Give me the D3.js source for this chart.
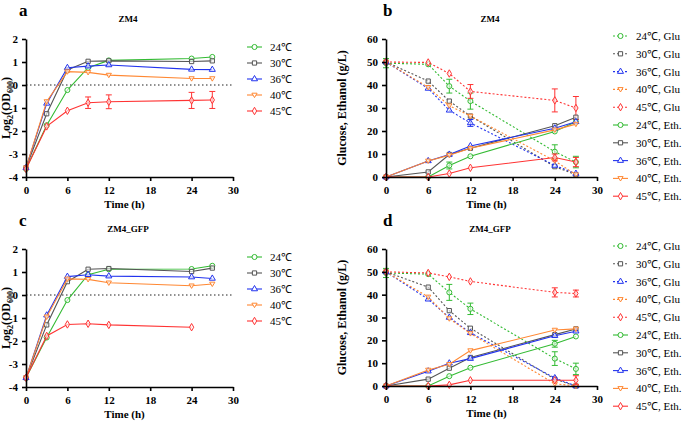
<!DOCTYPE html>
<html>
<head>
<meta charset="utf-8">
<script src="https://cdn.jsdelivr.net/npm/d3@7"></script>
<style>
  body { margin: 0; background: #fff; }
  svg text { font-family: "Liberation Serif", "Times New Roman", serif; }
</style>
</head>
<body>
<svg id="chart" width="685" height="423"></svg>
<script>
// time points
var hoursOD = [0, 3, 6, 9, 12, 24, 27];
var hoursFerm = [0, 6, 9, 12, 24, 27];
var temps = ['24', '30', '36', '40', '45'];
var colors = ['#33bb33', '#555555', '#2233ee', '#ff8833', '#ff3333'];
var symbols = ['circle', 'square', 'triangle', 'triangleDown', 'diamond'];

// panel a: ZM4, log2(OD600) per temperature
var odZM4 = [
  [-3.65, -1.75, -0.22, 0.75, 1.07, 1.15, 1.22],
  [-3.6, -1.25, 0.65, 1.03, 1.05, 1.02, 1.05],
  [-3.6, -0.8, 0.75, 0.82, 0.87, 0.68, 0.67],
  [-3.6, -0.72, 0.58, 0.55, 0.43, 0.28, 0.28],
  [-3.65, -1.8, -1.12, -0.77, -0.73, -0.67, -0.65]
];
var odZM4Err = [
  [0.05, 0.1, 0.12, 0.05, 0.04, 0.04, 0.04],
  [0.05, 0.05, 0.05, 0.04, 0.04, 0.04, 0.04],
  [0.05, 0.05, 0.05, 0.04, 0.04, 0.04, 0.04],
  [0.05, 0.05, 0.05, 0.04, 0.04, 0.04, 0.04],
  [0.05, 0.12, 0.05, 0.25, 0.3, 0.35, 0.37]
];
// panel c: ZM4_GFP
var odGFP = [
  [-3.6, -1.85, -0.22, 0.88, 1.12, 1.13, 1.27],
  [-3.6, -1.3, 0.58, 1.12, 1.15, 1.02, 1.17],
  [-3.6, -0.88, 0.8, 0.88, 0.82, 0.78, 0.72],
  [-3.6, -0.95, 0.7, 0.68, 0.53, 0.4, 0.48],
  [-3.6, -1.78, -1.28, -1.25, -1.3, -1.4, null]
];

// panel b: ZM4 glucose and ethanol (g/L)
var gluZM4 = [
  [49.5, 49, 39.5, 33, 11, 6.5],
  [50, 41.7, 33, 26.5, 4.5, 1],
  [50, 38.5, 29, 23.5, 5, 1.5],
  [50, 39, 31, 26.5, 7, 1],
  [50, 49.8, 45, 37.2, 33.3, 30]
];
var gluZM4Err = [
  [2, 1, 3, 3.5, 3, 2.5],
  [0.5, 0.5, 0.5, 0.5, 0.5, 0.5],
  [0.5, 1, 1, 1.5, 0.5, 0.5],
  [0.5, 0.5, 0.5, 0.5, 0.5, 0.5],
  [0.5, 1, 1, 3, 5, 5]
];
var ethZM4 = [
  [0, 0, 5, 9, 19.8, 24],
  [0, 2.2, 9.8, 12.5, 22.3, 26],
  [0, 7, 9.8, 13.5, 21.2, 24],
  [0, 7, 9.5, 12.5, 20.5, 23],
  [0, 0, 1.5, 4, 8.5, 6.5]
];
var ethZM4Err = [
  [0.3, 0.3, 1.5, 1, 1, 1],
  [0.3, 0.3, 0.5, 0.5, 0.5, 0.5],
  [0.3, 0.5, 0.5, 0.8, 0.5, 0.5],
  [0.3, 0.5, 0.5, 0.5, 0.5, 0.8],
  [0.3, 0.3, 0.5, 0.5, 1.5, 2]
];

// panel d: ZM4_GFP glucose and ethanol (g/L)
var gluGFP = [
  [49.5, 49, 41, 33.8, 12, 7.5],
  [50, 43.3, 33, 25.3, 3, 0],
  [50, 38, 30, 23.3, 3.5, 0],
  [50, 39, 29.5, 23, 1, 0],
  [50, 49.5, 47.8, 45.8, 41, 40.5]
];
var gluGFPErr = [
  [2, 1, 3.5, 2.5, 3, 2.5],
  [0.5, 0.5, 0.5, 0.5, 0.5, 0.3],
  [0.5, 1, 1, 1, 0.5, 0.3],
  [0.5, 0.5, 1, 0.5, 0.5, 0.3],
  [0.5, 1, 1, 1, 2, 1.5]
];
var ethGFP = [
  [0, 0, 4.3, 8, 18.5, 21.7],
  [0, 3, 7.8, 12.5, 22.5, 25],
  [0, 6.5, 10, 12, 22, 24],
  [0, 7, 9.5, 15.5, 24.5, 25],
  [0, 0, 0.5, 2.5, 2.5, 2.5]
];
var ethGFPErr = [
  [0.3, 0.3, 0.5, 0.5, 1.5, 0.8],
  [0.3, 1, 1, 0.5, 0.5, 0.5],
  [0.3, 0.5, 0.5, 0.5, 0.5, 0.5],
  [0.3, 0.5, 0.5, 1, 0.5, 0.5],
  [0.3, 0.3, 0.3, 0.3, 0.3, 2]
];

var xTicks = [0, 6, 12, 18, 24, 30];
var svg = d3.select('#chart');

function drawAxes(g, x, y, yTicks, yLabel, labelOffset) {
  g.append('g')
    .attr('transform', 'translate(0,' + y.range()[0] + ')')
    .call(d3.axisBottom(x).tickValues(xTicks).tickSize(4).tickSizeOuter(0))
    .call(function (a) {
      a.select('.domain').attr('stroke-width', 1.6);
      a.selectAll('line').attr('stroke-width', 1.6);
      a.selectAll('text').attr('font-size', 11).attr('font-weight', 'bold').attr('dy', '0.9em');
    });
  g.append('g')
    .attr('transform', 'translate(' + x.range()[0] + ',0)')
    .call(d3.axisLeft(y).tickValues(yTicks).tickSize(4).tickSizeOuter(0)
      .tickFormat(function (d) { return String(d); }))
    .call(function (a) {
      a.select('.domain').attr('stroke-width', 1.6);
      a.selectAll('line').attr('stroke-width', 1.6);
      a.selectAll('text').attr('font-size', 11).attr('font-weight', 'bold').attr('dx', '-0.1em');
    });
  var x0 = x.range()[0], x1 = x.range()[1];
  g.append('text')
    .attr('x', (x0 + x1) / 2 - 5).attr('y', y.range()[0] + 31)
    .attr('text-anchor', 'middle').attr('font-size', 11).attr('font-weight', 'bold')
    .text('Time (h)');
  var yl = g.append('text')
    .attr('transform', 'translate(' + (x0 - labelOffset) + ',' + ((y.range()[0] + y.range()[1]) / 2) + ') rotate(-90)')
    .attr('text-anchor', 'middle').attr('font-size', 12).attr('font-weight', 'bold');
  if (yLabel === 'od') {
    yl.append('tspan').text('Log');
    yl.append('tspan').attr('font-size', 8).attr('dy', 3).text('2');
    yl.append('tspan').attr('dy', -3).text('(OD');
    yl.append('tspan').attr('font-size', 8).attr('dy', 3).text('600');
    yl.append('tspan').attr('dy', -3).text(')');
  } else {
    yl.text('Glucose, Ethanol (g/L)');
  }
}

function drawSeries(g, x, y, hours, vals, errs, i, dashed) {
  var pts = hours.map(function (h, k) { return { h: h, v: vals[k], e: errs ? errs[k] : 0 }; })
    .filter(function (d) { return d.v !== null; });
  var line = d3.line().x(function (d) { return x(d.h); }).y(function (d) { return y(d.v); });
  g.append('path').datum(pts)
    .attr('d', line).attr('fill', 'none')
    .attr('stroke', colors[i]).attr('stroke-width', 1.1)
    .attr('stroke-dasharray', dashed ? '2,2' : null);
  var eb = g.append('g').attr('stroke', colors[i]).attr('stroke-width', 1);
  pts.forEach(function (d) {
    if (d.e * Math.abs(y(0) - y(1)) < 3) return;
    var cx = x(d.h);
    eb.append('line').attr('x1', cx).attr('x2', cx).attr('y1', y(d.v - d.e)).attr('y2', y(d.v + d.e));
    eb.append('line').attr('x1', cx - 3).attr('x2', cx + 3).attr('y1', y(d.v - d.e)).attr('y2', y(d.v - d.e));
    eb.append('line').attr('x1', cx - 3).attr('x2', cx + 3).attr('y1', y(d.v + d.e)).attr('y2', y(d.v + d.e));
  });
  g.append('g').selectAll('path').data(pts).join('path')
    .attr('transform', function (d) { return 'translate(' + x(d.h) + ',' + y(d.v) + ')'; })
    .attr('d', marker(i))
    .attr('fill', 'white').attr('fill-opacity', 0.6)
    .attr('stroke', colors[i]).attr('stroke-width', 1);
}

function marker(i) {
  var s = symbols[i];
  if (s === 'triangleDown') {
    return 'M-2.6,-1.8L2.6,-1.8L0,2.6Z';
  }
  var type = { circle: d3.symbolCircle, square: d3.symbolSquare, triangle: d3.symbolTriangle, diamond: d3.symbolDiamond }[s];
  var size = { circle: 20, square: 18, triangle: 16, diamond: 16 }[s];
  return d3.symbol().type(type).size(size)();
}

function legendRow(g, lx, ly, i, label, dashed) {
  g.append('line').attr('x1', lx).attr('x2', lx + 15).attr('y1', ly).attr('y2', ly)
    .attr('stroke', colors[i]).attr('stroke-width', 1.1)
    .attr('stroke-dasharray', dashed ? '2,2' : null);
  g.append('path').attr('transform', 'translate(' + (lx + 7.5) + ',' + ly + ')')
    .attr('d', marker(i)).attr('fill', 'white').attr('stroke', colors[i]).attr('stroke-width', 1);
  g.append('text').attr('x', lx + 23).attr('y', ly + 4).attr('font-size', 11).text(label);
}

function panelLabels(g, lx, ly, letter, tx, title) {
  g.append('text').attr('x', lx).attr('y', ly).attr('font-size', 17).attr('font-weight', 'bold').text(letter);
  g.append('text').attr('x', tx).attr('y', ly + 6).attr('text-anchor', 'middle')
    .attr('font-size', 9).attr('font-weight', 'bold').text(title);
}

function odPanel(top, letter, title, data, errs) {
  var g = svg.append('g');
  var x = d3.scaleLinear().domain([0, 30]).range([26, 233]);
  var y = d3.scaleLinear().domain([-4, 2]).range([top + 138, top]);
  panelLabels(g, 19, top - 23, letter, 128, title);
  g.append('line').attr('x1', x(0)).attr('x2', x(30)).attr('y1', y(0)).attr('y2', y(0))
    .attr('stroke', '#222').attr('stroke-width', 1.2).attr('stroke-dasharray', '1.5,2.5');
  data.forEach(function (vals, i) {
    drawSeries(g, x, y, hoursOD, vals, errs ? errs[i] : null, i, false);
  });
  drawAxes(g, x, y, d3.range(-4, 3), 'od', 16);
  temps.forEach(function (t, i) {
    legendRow(g, 247, top + 8 + i * 16, i, t + '\u2103', false);
  });
}

function fermPanel(top, bottom, letter, title, glu, gluErr, eth, ethErr) {
  var g = svg.append('g');
  var x = d3.scaleLinear().domain([0, 30]).range([386, 597]);
  var y = d3.scaleLinear().domain([0, 60]).range([bottom, top]);
  panelLabels(g, 383, top - 23, letter, 490, title);
  glu.forEach(function (vals, i) {
    drawSeries(g, x, y, hoursFerm, vals, gluErr[i], i, true);
  });
  eth.forEach(function (vals, i) {
    drawSeries(g, x, y, hoursFerm, vals, ethErr[i], i, false);
  });
  drawAxes(g, x, y, d3.range(0, 61, 10), 'ferm', 40);
  temps.forEach(function (t, i) {
    legendRow(g, 613, top - 3 + i * 17.8, i, t + '\u2103, Glu', true);
  });
  temps.forEach(function (t, i) {
    legendRow(g, 613, top - 3 + (i + 5) * 17.8, i, t + '\u2103, Eth.', false);
  });
}

odPanel(39, 'a', 'ZM4', odZM4, odZM4Err);
odPanel(249, 'c', 'ZM4_GFP', odGFP, null);
fermPanel(39, 177, 'b', 'ZM4', gluZM4, gluZM4Err, ethZM4, ethZM4Err);
fermPanel(249, 386, 'd', 'ZM4_GFP', gluGFP, gluGFPErr, ethGFP, ethGFPErr);
</script>
</body>
</html>
